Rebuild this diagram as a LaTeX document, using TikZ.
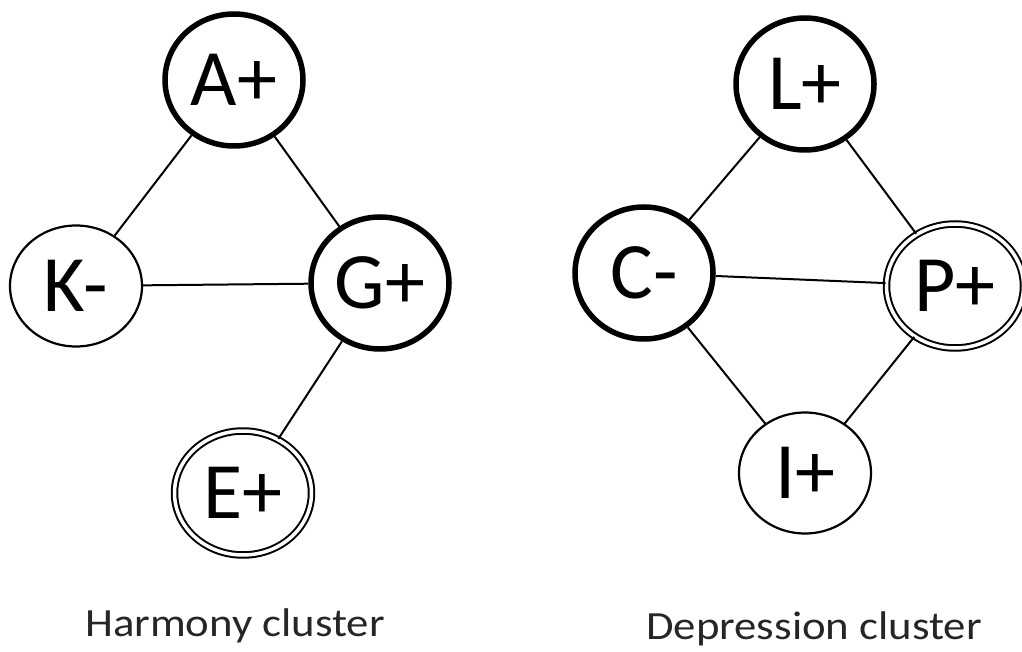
\documentclass[tikz,border=0pt]{standalone}
\usepackage{fontspec}
\usetikzlibrary{shapes.geometric}
\setmainfont{Carlito}
\begin{document}
\begin{tikzpicture}[x=1pt,y=-1pt,
  concept/.style={ellipse,inner sep=0pt,fill=white,
    font=\fontsize{80}{80}\selectfont},
  strong/.style={concept,draw,line width=5.5pt,minimum width=138pt,minimum height=132pt},
  weak/.style={concept,draw,line width=2.2pt,minimum width=132pt,minimum height=121pt},
  twofold/.style={concept,draw,line width=2pt,double,double distance=3.5pt,
    minimum width=137pt,minimum height=124pt},
  link/.style={line width=2pt},
  caption/.style={font=\fontsize{40}{40}\selectfont,text=black!85}]
\useasboundingbox (0,0) rectangle (1022,652);
% Harmony cluster
\node[strong] (A) at (234,80) {A+};
\node[weak] (K) at (76,286) {K-};
\node[strong] (G) at (380,283) {G+};
\node[twofold] (E) at (243,493) {E+};
% Depression cluster
\node[strong] (L) at (805,84) {L+};
\node[strong] (C) at (644,273) {C-};
\node[twofold] (P) at (955,286) {P+};
\node[weak] (I) at (805,473) {I+};
% links between concepts
\draw[link] (A) -- (K);
\draw[link] (A) -- (G);
\draw[link] (K) -- (G);
\draw[link] (G) -- (E);
\draw[link] (L) -- (C);
\draw[link] (L) -- (P);
\draw[link] (C) -- (P);
\draw[link] (C) -- (I);
\draw[link] (P) -- (I);
% cluster names
\node[caption] (hc) at (235,626) {\scalebox{1.12}[1]{Harmony cluster}};
\node[caption] (dc) at (814,629) {\scalebox{1.12}[1]{Depression cluster}};
\end{tikzpicture}
\end{document}
